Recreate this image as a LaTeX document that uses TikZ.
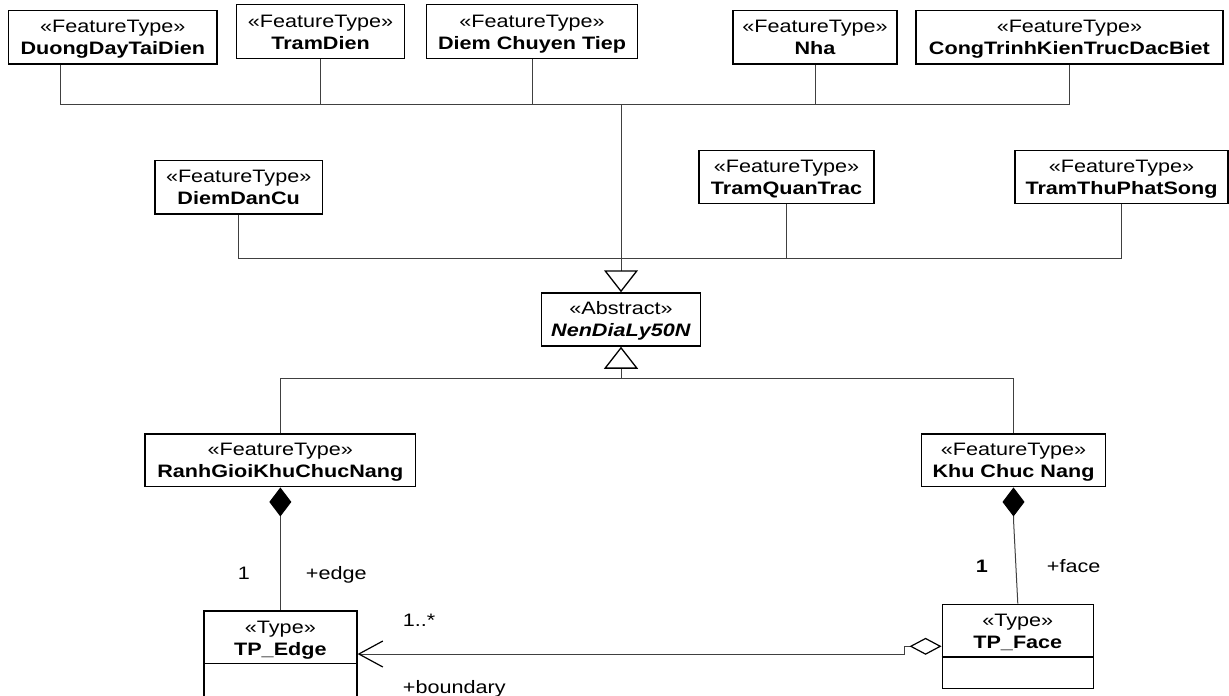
\documentclass[tikz,border=0pt]{standalone}
\usepackage{fontspec}
\newfontfamily\umlfont[FakeStretch=1.2]{Liberation Sans}
\usetikzlibrary{arrows.meta,calc}
% strut that gives every text line the same height and depth
\newcommand{\cstrut}{\rule[-4pt]{0pt}{20.9pt}}
\newcommand{\stereo}[1]{\cstrut«#1»}
\newcommand{\cname}[1]{\cstrut\textbf{#1}}
\begin{document}
\begin{tikzpicture}[x=1pt,y=-1pt,
  txt/.style={font=\umlfont\fontsize{18}{22}\selectfont, text=black},
  cls/.style={txt, draw=black, line width=1.5pt, fill=white, inner sep=0pt,
    align=center, minimum height=53.3},
  typebox/.style={draw=black, line width=1.5pt, fill=white, inner sep=0pt},
  head/.style={txt, align=center, inner sep=0pt},
  lbl/.style={txt, inner sep=0pt},
  conn/.style={draw=black!75, line width=1pt},
  gen/.style={conn, -{Triangle[open, length=22pt, width=34pt, color=black, line width=1.3pt]}},
  comp/.style={conn, {Diamond[length=29pt, width=22pt, color=black]}-},
  agg/.style={conn, {Diamond[open, length=32pt, width=17pt, color=black, line width=1.2pt]}-{Straight Barb[length=24pt, width=26pt, color=black, line width=1.2pt]}}
]
\useasboundingbox (0,0) rectangle (1229,696);

% top row of feature types
\node[cls, minimum width=208.1] (duong) at (112.75,37.35) {\stereo{FeatureType}\\\cname{DuongDayTaiDien}};
\node[cls, minimum width=167.9, minimum height=54] (tram) at (320.55,31.7) {\stereo{FeatureType}\\\cname{TramDien}};
\node[cls, minimum width=211.2, minimum height=54] (diem) at (532.1,31.7) {\stereo{FeatureType}\\\cname{Diem Chuyen Tiep}};
\node[cls, minimum width=164] (nha) at (815,37.35) {\stereo{FeatureType}\\\cname{Nha}};
\node[cls, minimum width=307.2] (cong) at (1069.4,37.35) {\stereo{FeatureType}\\\cname{CongTrinhKienTrucDacBiet}};

% second row of feature types
\node[cls, minimum width=167.3] (dan) at (238.65,187.35) {\stereo{FeatureType}\\\cname{DiemDanCu}};
\node[cls, minimum width=175, minimum height=53] (quan) at (786.5,177) {\stereo{FeatureType}\\\cname{TramQuanTrac}};
\node[cls, minimum width=213, minimum height=53] (song) at (1121.5,177) {\stereo{FeatureType}\\\cname{TramThuPhatSong}};

% abstract base class
\node[cls, minimum width=159, minimum height=53] (abs) at (621,319.5) {\stereo{Abstract}\\\cstrut\textbf{\itshape NenDiaLy50N}};

% subclasses below the base class
\node[cls, minimum width=270.7, minimum height=52.7] (ranh) at (280.35,460.35) {\stereo{FeatureType}\\\cname{RanhGioiKhuChucNang}};
\node[cls, minimum width=183.6, minimum height=52.7] (khu) at (1013.5,460.35) {\stereo{FeatureType}\\\cname{Khu Chuc Nang}};

% topology types with an empty attribute compartment
\node[typebox, minimum width=153, minimum height=86] (edgeBox) at (280.35,654) {};
\draw[line width=1.5pt] ($(edgeBox.north west)+(0,53.3)$) -- ($(edgeBox.north east)+(0,53.3)$);
\node[head] (edgeHead) at (280.35,637.65) {\stereo{Type}\\\cname{TP\_Edge}};

\node[typebox, minimum width=151, minimum height=84] (faceBox) at (1017.8,646.3) {};
\draw[line width=1.5pt] ($(faceBox.north west)+(0,53.4)$) -- ($(faceBox.north east)+(0,53.4)$);
\node[head] (faceHead) at (1017.8,631) {\stereo{Type}\\\cname{TP\_Face}};

% generalization buses
\coordinate (busA) at (621,104);
\coordinate (busB) at (621,258.5);
\coordinate (busC) at (621,378.7);

\draw[conn] ($(duong.south west)+(52.8,0)$) |- (busA);
\draw[conn] (tram.south) |- (busA);
\draw[conn] (diem.south) |- (busA);
\draw[conn] (nha.south) |- (busA);
\draw[conn] (cong.south) |- (busA);
\draw[conn] (dan.south) |- (busB);
\draw[conn] (quan.south) |- (busB);
\draw[conn] (song.south) |- (busB);
\draw[gen] (busA) -- (abs.north);

\draw[conn] (ranh.north) |- (busC);
\draw[conn] (khu.north) |- (busC);
\draw[gen] (busC) -- (abs.south);

% compositions
\draw[comp] (ranh.south) -- (edgeBox.north);
\draw[comp] (khu.south) -- ++(0,32) -- (faceBox.north);

% aggregation from face to edge
\draw[agg] (faceBox.west) -- ++(-37,0) |- (edgeBox.east);

% role names and multiplicities
\node[lbl, anchor=base] (m1) at (244,579.3) {1};
\node[lbl, anchor=base west] (r1) at (305.7,579.3) {+edge};
\node[lbl, anchor=base] (m2) at (981.8,572.7) {\bfseries 1};
\node[lbl, anchor=base west] (r2) at (1046.7,572.7) {+face};
\node[lbl, anchor=base west] (m3) at (402.7,626.7) {1..*};
\node[lbl, anchor=base west] (r3) at (402.7,693.5) {+boundary};
\end{tikzpicture}
\end{document}
